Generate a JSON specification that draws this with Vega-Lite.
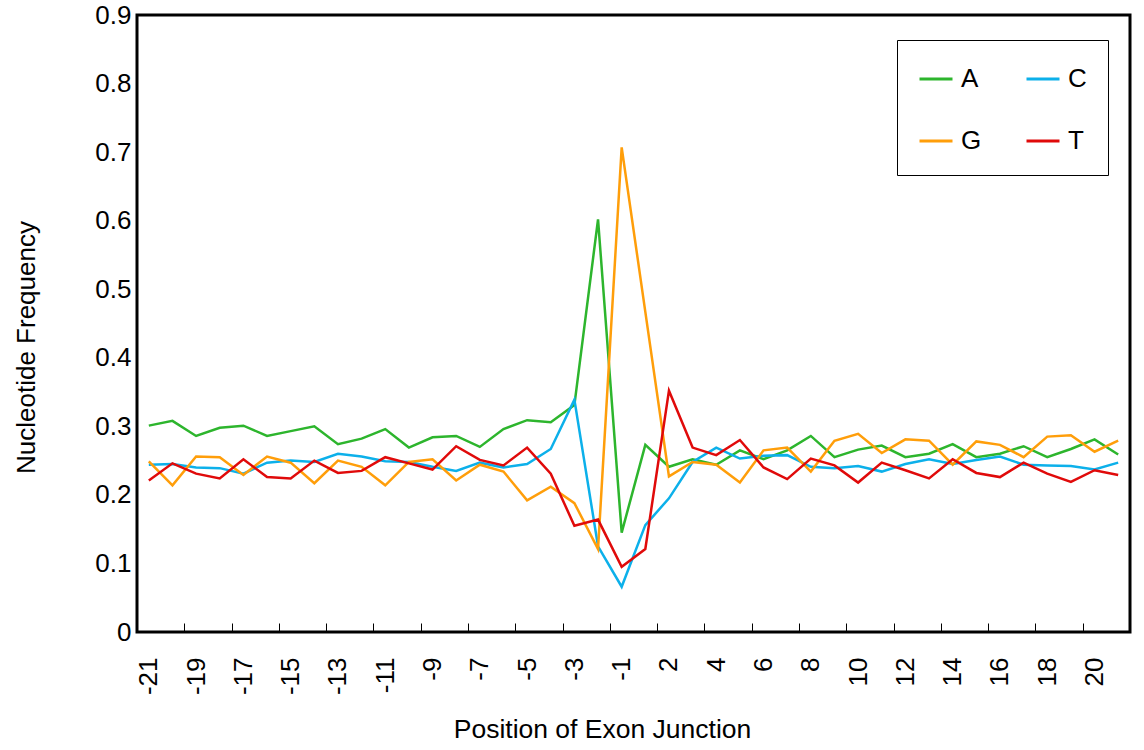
{
  "$schema": "https://vega.github.io/schema/vega-lite/v6.json",
  "autosize": {"type": "none"},
  "padding": {"left": 137, "top": 15, "right": 14, "bottom": 118},
  "width": 993,
  "height": 617,
  "background": "white",
  "config": {
    "font": "Liberation Sans",
    "view": {"stroke": "black", "strokeWidth": 3},
    "axis": {"domain": false, "grid": false, "labelColor": "black", "titleColor": "black", "labelFont": "Liberation Sans", "titleFont": "Liberation Sans", "titleFontWeight": "normal"}
  },
  "data": {
    "values": [
      {"pos": -21, "A": 0.301, "C": 0.244, "G": 0.249, "T": 0.221},
      {"pos": -20, "A": 0.308, "C": 0.245, "G": 0.214, "T": 0.246},
      {"pos": -19, "A": 0.286, "C": 0.240, "G": 0.256, "T": 0.231},
      {"pos": -18, "A": 0.298, "C": 0.239, "G": 0.255, "T": 0.224},
      {"pos": -17, "A": 0.301, "C": 0.231, "G": 0.229, "T": 0.252},
      {"pos": -16, "A": 0.286, "C": 0.247, "G": 0.256, "T": 0.226},
      {"pos": -15, "A": 0.293, "C": 0.250, "G": 0.247, "T": 0.224},
      {"pos": -14, "A": 0.300, "C": 0.248, "G": 0.217, "T": 0.250},
      {"pos": -13, "A": 0.274, "C": 0.260, "G": 0.250, "T": 0.232},
      {"pos": -12, "A": 0.282, "C": 0.256, "G": 0.241, "T": 0.235},
      {"pos": -11, "A": 0.296, "C": 0.249, "G": 0.214, "T": 0.255},
      {"pos": -10, "A": 0.269, "C": 0.248, "G": 0.248, "T": 0.246},
      {"pos": -9, "A": 0.284, "C": 0.241, "G": 0.252, "T": 0.237},
      {"pos": -8, "A": 0.286, "C": 0.235, "G": 0.221, "T": 0.271},
      {"pos": -7, "A": 0.270, "C": 0.247, "G": 0.244, "T": 0.251},
      {"pos": -6, "A": 0.296, "C": 0.240, "G": 0.234, "T": 0.243},
      {"pos": -5, "A": 0.309, "C": 0.245, "G": 0.192, "T": 0.269},
      {"pos": -4, "A": 0.306, "C": 0.267, "G": 0.212, "T": 0.231},
      {"pos": -3, "A": 0.331, "C": 0.339, "G": 0.188, "T": 0.155},
      {"pos": -2, "A": 0.602, "C": 0.125, "G": 0.121, "T": 0.164},
      {"pos": -1, "A": 0.145, "C": 0.066, "G": 0.707, "T": 0.095},
      {"pos": 1, "A": 0.273, "C": 0.156, "G": 0.467, "T": 0.121},
      {"pos": 2, "A": 0.241, "C": 0.195, "G": 0.227, "T": 0.352},
      {"pos": 3, "A": 0.252, "C": 0.248, "G": 0.248, "T": 0.269},
      {"pos": 4, "A": 0.244, "C": 0.269, "G": 0.244, "T": 0.258},
      {"pos": 5, "A": 0.265, "C": 0.253, "G": 0.218, "T": 0.280},
      {"pos": 6, "A": 0.252, "C": 0.257, "G": 0.265, "T": 0.240},
      {"pos": 7, "A": 0.265, "C": 0.258, "G": 0.269, "T": 0.223},
      {"pos": 8, "A": 0.286, "C": 0.241, "G": 0.234, "T": 0.253},
      {"pos": 9, "A": 0.255, "C": 0.239, "G": 0.279, "T": 0.243},
      {"pos": 10, "A": 0.266, "C": 0.242, "G": 0.289, "T": 0.218},
      {"pos": 11, "A": 0.272, "C": 0.234, "G": 0.261, "T": 0.247},
      {"pos": 12, "A": 0.255, "C": 0.245, "G": 0.281, "T": 0.236},
      {"pos": 13, "A": 0.260, "C": 0.252, "G": 0.279, "T": 0.224},
      {"pos": 14, "A": 0.274, "C": 0.245, "G": 0.244, "T": 0.252},
      {"pos": 15, "A": 0.255, "C": 0.251, "G": 0.278, "T": 0.232},
      {"pos": 16, "A": 0.260, "C": 0.256, "G": 0.273, "T": 0.226},
      {"pos": 17, "A": 0.271, "C": 0.244, "G": 0.255, "T": 0.247},
      {"pos": 18, "A": 0.255, "C": 0.243, "G": 0.285, "T": 0.231},
      {"pos": 19, "A": 0.267, "C": 0.242, "G": 0.287, "T": 0.219},
      {"pos": 20, "A": 0.281, "C": 0.237, "G": 0.263, "T": 0.236},
      {"pos": 21, "A": 0.259, "C": 0.247, "G": 0.279, "T": 0.229}
    ]
  },
  "transform": [{"fold": ["A", "C", "G", "T"], "as": ["base", "freq"]}],
  "mark": {"type": "line", "strokeWidth": 2.5, "clip": false},
  "encoding": {
    "x": {
      "field": "pos",
      "type": "ordinal",
      "sort": "ascending",
      "scale": {"type": "point", "padding": 0.5},
      "axis": {
        "title": "Position of Exon Junction",
        "titleFontSize": 26.5,
        "titlePadding": 22,
        "titleX": 465,
        "titleAlign": "center",
        "values": [-21, -19, -17, -15, -13, -11, -9, -7, -5, -3, -1, 2, 4, 6, 8, 10, 12, 14, 16, 18, 20],
        "labelAngle": 270,
        "labelFontSize": 26,
        "labelPadding": 34,
        "tickSize": -9,
        "tickColor": "black",
        "tickWidth": 1,
        "tickOffset": -11.82,
        "labelOffset": 11.82
      }
    },
    "y": {
      "field": "freq",
      "type": "quantitative",
      "scale": {"domain": [0, 0.9], "nice": false},
      "axis": {
        "title": "Nucleotide Frequency",
        "titleFontSize": 26,
        "titlePadding": 55,
        "titleY": 332,
        "values": [0, 0.1, 0.2, 0.3, 0.4, 0.5, 0.6, 0.7, 0.8, 0.9],
        "ticks": false,
        "labelFontSize": 26,
        "labelPadding": 6,
        "labelExpr": "datum.value == 0 ? '0' : format(datum.value, '.1f')"
      }
    },
    "color": {
      "field": "base",
      "type": "nominal",
      "scale": {"domain": ["A", "C", "G", "T"], "range": ["#2db52d", "#0cb0ea", "#ff9e0a", "#e00a0a"]},
      "legend": {
        "title": null,
        "orient": "none",
        "legendX": 760,
        "legendY": 25,
        "direction": "horizontal",
        "columns": 2,
        "symbolType": "stroke",
        "symbolSize": 1089,
        "symbolStrokeWidth": 3,
        "labelFontSize": 26,
        "labelFont": "Liberation Sans",
        "labelColor": "black",
        "labelOffset": 7,
        "columnPadding": 38,
        "rowPadding": 31,
        "padding": 21,
        "strokeColor": "black",
        "fillColor": "white"
      }
    }
  }
}
